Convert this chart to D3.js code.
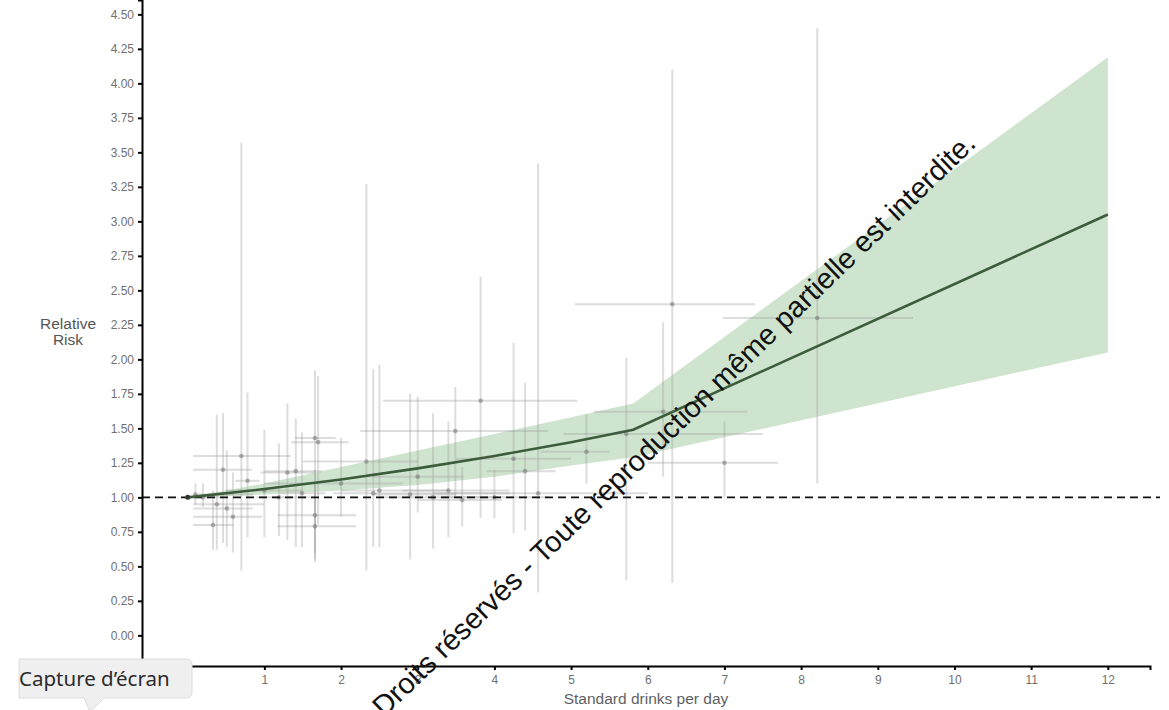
<!DOCTYPE html>
<html>
<head>
<meta charset="utf-8">
<script src="https://cdn.jsdelivr.net/npm/d3@7"></script>
<style>
    html, body { margin: 0; padding: 0; background: #fff; }
    svg { display: block; font-family: "Liberation Sans", Arial, Helvetica, sans-serif; }
</style>
</head>
<body>
<svg id="chart" width="1169" height="710"></svg>
<script>

// dose-response curve (pooled estimate)
const curveDose = [0, 1, 2, 3, 4, 5, 5.81, 12];
const curveRR   = [1.00, 1.06, 1.13, 1.21, 1.30, 1.40, 1.49, 3.05];
const bandLow   = [1.00, 1.02, 1.05, 1.09, 1.15, 1.23, 1.29, 2.05];
const bandHigh  = [1.00, 1.10, 1.22, 1.34, 1.46, 1.58, 1.68, 4.19];

// individual study estimates
const studyDose = [0.10, 0.70, 0.46, 0.78, 0.38, 0.51, 0.33, 0.59, 1.00, 1.19, 1.30, 1.41, 1.49, 1.66, 1.70, 1.66, 1.66, 2.33, 2.42, 2.50, 2.90, 3.00, 3.20, 3.40, 3.49, 3.58, 3.82, 4.25, 4.40, 4.57, 5.72, 6.32, 6.20, 8.21, 5.20, 7.00, 2.00, 0.20, 4.00];
const doseLow   = [0.07, 0.07, 0.07, 0.62, 0.07, 0.07, 0.07, 0.07, 0.50, 0.90, 0.95, 1.00, 1.20, 1.40, 1.35, 1.17, 1.17, 1.50, 1.90, 2.00, 2.40, 2.40, 2.50, 2.80, 2.25, 3.00, 2.55, 3.50, 3.90, 3.20, 4.90, 5.05, 5.30, 6.98, 4.60, 6.00, 1.00, 0.07, 3.30];
const doseHigh  = [0.85, 1.34, 0.84, 0.94, 1.00, 0.85, 0.60, 0.97, 1.50, 1.60, 1.65, 1.75, 1.80, 1.93, 2.10, 2.20, 2.20, 3.00, 4.20, 3.40, 3.50, 3.60, 4.00, 4.20, 4.70, 4.10, 5.08, 5.00, 4.80, 6.00, 7.50, 7.40, 7.30, 9.46, 5.50, 7.70, 2.80, 0.50, 4.70];
const studyRR   = [1.02, 1.30, 1.20, 1.12, 0.95, 0.92, 0.80, 0.86, 1.05, 1.00, 1.18, 1.19, 1.03, 1.43, 1.40, 0.87, 0.79, 1.26, 1.03, 1.05, 1.02, 1.15, 1.00, 1.05, 1.48, 0.98, 1.70, 1.28, 1.19, 1.03, 1.46, 2.40, 1.62, 2.30, 1.33, 1.25, 1.10, 1.00, 1.00];
const rrLow     = [0.95, 0.47, 0.67, 0.71, 0.62, 0.64, 0.62, 0.60, 0.71, 0.72, 0.69, 0.64, 0.64, 0.53, 0.80, 0.60, 0.55, 0.47, 0.64, 0.64, 0.55, 0.89, 0.63, 0.71, 1.00, 0.79, 0.85, 0.74, 0.76, 0.31, 0.40, 0.38, 1.15, 1.10, 1.10, 1.00, 0.86, 0.93, 0.85];
const rrHigh    = [1.10, 3.57, 1.61, 1.76, 1.60, 1.34, 1.05, 1.18, 1.49, 1.39, 1.68, 1.57, 1.47, 1.92, 1.88, 1.20, 1.10, 3.27, 1.93, 1.96, 1.75, 1.73, 1.61, 1.55, 1.80, 1.22, 2.60, 2.12, 1.83, 3.42, 2.01, 4.10, 2.27, 4.40, 1.60, 1.55, 1.43, 1.10, 1.20];

const xTicks = [0, 1, 2, 3, 4, 5, 6, 7, 8, 9, 10, 11, 12];
const yTicks = [0, 0.25, 0.5, 0.75, 1, 1.25, 1.5, 1.75, 2, 2.25, 2.5, 2.75, 3, 3.25, 3.5, 3.75, 4, 4.25, 4.5];

const svg = d3.select('#chart');

const x = d3.scaleLinear().domain([-0.596, 12.55]).range([142, 1150]);
const y = d3.scaleLinear().domain([-0.222, 4.604]).range([666, 0]);

const curve = curveDose.map((d, i) => ({ dose: d, rr: curveRR[i], lo: bandLow[i], hi: bandHigh[i] }));
const studies = studyDose.map((d, i) => ({
    dose: d, dLo: doseLow[i], dHi: doseHigh[i], rr: studyRR[i], lo: rrLow[i], hi: rrHigh[i]
}));

// confidence band
svg.append('path')
    .datum(curve)
    .attr('fill', '#cfe4ce')
    .attr('d', d3.area()
        .x(d => x(d.dose))
        .y0(d => y(d.lo))
        .y1(d => y(d.hi)));

// study crosshairs
const studyGroup = svg.append('g');
const crossColor = 'rgba(160,160,160,0.36)';

studyGroup.selectAll('line.h')
    .data(studies)
    .join('line')
    .attr('class', 'h')
    .attr('x1', d => x(d.dLo))
    .attr('x2', d => x(d.dHi))
    .attr('y1', d => y(d.rr))
    .attr('y2', d => y(d.rr))
    .attr('stroke', crossColor)
    .attr('stroke-width', 2);

studyGroup.selectAll('line.v')
    .data(studies)
    .join('line')
    .attr('class', 'v')
    .attr('x1', d => x(d.dose))
    .attr('x2', d => x(d.dose))
    .attr('y1', d => y(d.lo))
    .attr('y2', d => y(d.hi))
    .attr('stroke', crossColor)
    .attr('stroke-width', 2);

studyGroup.selectAll('circle')
    .data(studies)
    .join('circle')
    .attr('cx', d => x(d.dose))
    .attr('cy', d => y(d.rr))
    .attr('r', 2.3)
    .attr('fill', 'rgba(110,110,110,0.5)');

// reference line at RR = 1
svg.append('line')
    .attr('x1', 142)
    .attr('x2', 1160)
    .attr('y1', y(1))
    .attr('y2', y(1))
    .attr('stroke', '#111')
    .attr('stroke-width', 1.6)
    .attr('stroke-dasharray', '8,5');

// pooled curve
svg.append('path')
    .datum(curve)
    .attr('fill', 'none')
    .attr('stroke', '#3c5c3b')
    .attr('stroke-width', 2.6)
    .attr('d', d3.line()
        .x(d => x(d.dose))
        .y(d => y(d.rr)));

svg.append('circle')
    .attr('cx', x(0))
    .attr('cy', y(1))
    .attr('r', 2.5)
    .attr('fill', '#333');

// axes
const xAxis = svg.append('g')
    .attr('transform', `translate(0, 666)`)
    .call(d3.axisBottom(x).tickValues(xTicks).tickSize(4).tickPadding(5).tickFormat(d3.format('d')));

const yAxis = svg.append('g')
    .attr('transform', `translate(142, 0)`)
    .call(d3.axisLeft(y).tickValues(yTicks).tickSize(4).tickPadding(4).tickFormat(d3.format('.2f')));

[xAxis, yAxis].forEach(g => {
    g.select('.domain').attr('stroke', '#000').attr('stroke-width', 2);
    g.selectAll('.tick line').attr('stroke', '#000').attr('stroke-width', 2);
    g.selectAll('.tick text')
        .attr('fill', '#707070')
        .style('font-size', '12px')
        .style('font-family', '"Liberation Sans", Arial, sans-serif');
});

// axis titles
svg.append('text')
    .attr('x', 646)
    .attr('y', 704)
    .attr('text-anchor', 'middle')
    .attr('fill', '#5f5f5f')
    .style('font-size', '15.5px')
    .text('Standard drinks per day');

const yTitle = svg.append('text')
    .attr('text-anchor', 'middle')
    .attr('fill', '#555')
    .style('font-size', '15.5px');
yTitle.append('tspan').attr('x', 68).attr('y', 329).text('Relative');
yTitle.append('tspan').attr('x', 68).attr('y', 345).text('Risk');

// watermark across the plot
svg.append('text')
    .attr('transform', 'translate(384, 718) rotate(-44)')
    .attr('fill', '#111')
    .style('font-size', '29px')
    .text('Droits réservés - Toute reproduction même partielle est interdite.');

// screenshot tooltip in the corner
const tip = svg.append('g');
tip.append('path')
    .attr('d', 'M19,659 H186 Q192,659 192,665 V692 Q192,698 186,698 H104 L90,712 L84,698 H19 Z')
    .attr('fill', '#efefef')
    .attr('stroke', '#dcdcdc')
    .attr('stroke-width', 1);
tip.append('text')
    .attr('x', 19)
    .attr('y', 686)
    .attr('fill', '#2b2b2b')
    .style('font-family', '"Noto Sans", "Open Sans", sans-serif')
    .style('font-size', '20.5px')
    .text('Capture d’écran');

</script>
</body>
</html>
